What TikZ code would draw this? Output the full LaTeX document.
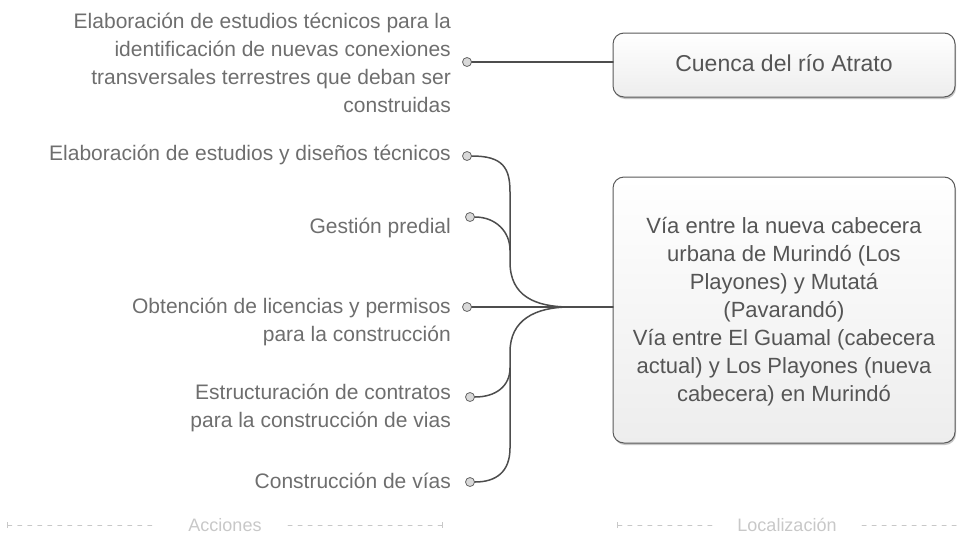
\documentclass[tikz,border=0pt]{standalone}
\usepackage{fontspec}
\setmainfont{Liberation Sans}
\usetikzlibrary{arrows.meta,positioning}
\definecolor{txtgray}{HTML}{6E6E6E}
\definecolor{boxtxt}{HTML}{555555}
\definecolor{linkgray}{HTML}{4D4D4D}
\definecolor{footgray}{HTML}{C8C8C8}
\tikzset{
  act/.style={anchor=east,align=right,text=txtgray,inner sep=0pt,
    font=\fontsize{21}{28}\selectfont},
  dot/.style={circle,draw=gray!80!black,fill=gray!30,line width=0.8pt,
    minimum size=9pt,inner sep=0pt},
  link/.style={draw=linkgray,line width=1.5pt},
  place/.style={draw=gray!70!black,line width=1pt,rounded corners=11pt,
    top color=white,bottom color=gray!14,text=boxtxt,align=center},
  shade/.style={fill=gray!45,rounded corners=11pt},
  guide/.style={footgray,line width=1pt,dash pattern=on 4pt off 6pt},
  foot/.style={text=footgray,font=\fontsize{18}{20}\selectfont,inner sep=0pt}
}
\begin{document}
\begin{tikzpicture}[x=1pt,y=-1pt,line cap=round,line join=round]
  \useasboundingbox (0,0) rectangle (957,536);
  % localizaciones
  \path[shade] (614,35) rectangle (956,99);
  \path[place] (613,33) rectangle (955,97);
  \node[text=boxtxt,font=\fontsize{23}{28}\selectfont] (atrato) at (784,63) {Cuenca del río Atrato};
  \path[shade] (614,179) rectangle (956,445);
  \path[place] (613,177) rectangle (955,443);
  \node[text=boxtxt,align=center,font=\fontsize{22}{28}\selectfont] (vias) at (784,312)
    {Vía entre la nueva cabecera\\urbana de Murindó (Los\\Playones) y Mutatá\\(Pavarandó)\\Vía entre El Guamal (cabecera\\actual) y Los Playones (nueva\\cabecera) en Murindó};
  \coordinate (boxA) at (613,62);
  \coordinate (boxB) at (613,307);
  % acciones
  \node[act] (a0) at (451,63) {Elaboración de estudios técnicos para la\\identificación de nuevas conexiones\\transversales terrestres que deban ser\\construidas};
  \node[act] (a1) at (451,155) {Elaboración de estudios y diseños técnicos};
  \node[act] (a2) at (451,228) {Gestión predial};
  \node[act] (a3) at (451,322) {Obtención de licencias y permisos\\para la construcción};
  \node[act] (a4) at (451,408) {Estructuración de contratos\\para la construcción de vias};
  \node[act] (a5) at (451,481) {Construcción de vías};
  % conectores
  \coordinate (J) at (570,307);
  \coordinate (t1) at (510,192);
  \coordinate (t2) at (510,262);
  \coordinate (t3) at (510,250);
  \coordinate (t4) at (510,352);
  \coordinate (t5) at (510,448);
  \coordinate (t6) at (510,368);
  \node[dot] (d0) at (467,62) {};
  \node[dot] (d1) at (467,156) {};
  \node[dot] (d2) at (470,217) {};
  \node[dot] (d3) at (467,307) {};
  \node[dot] (d4) at (470,397) {};
  \node[dot] (d5) at (470,482) {};
  \draw[link] (d0.east) -- (boxA);
  \draw[link] (d1.east) .. controls (503,156) and (510,168) .. (t1) -- (t2)
    .. controls (510,296) and (535,307) .. (J);
  \draw[link] (d2.east) .. controls (496,217) and (510,232) .. (t3);
  \draw[link] (d3.east) -- (boxB);
  \draw[link] (J) .. controls (535,307) and (510,320) .. (t4) -- (t5)
    .. controls (510,472) and (496,482) .. (d5.east);
  \draw[link] (d4.east) .. controls (496,397) and (510,386) .. (t6);
  % pie
  \node[foot] (acc) at (225,525) {Acciones};
  \node[foot] (loc) at (787,525) {Localización};
  \coordinate (g0) at (7,525);
  \coordinate (g1) at (157,525);
  \coordinate (g2) at (288,525);
  \coordinate (g3) at (443,525);
  \coordinate (g4) at (617,525);
  \coordinate (g5) at (713,525);
  \coordinate (g6) at (862,525);
  \coordinate (g7) at (957,525);
  \draw[guide,{Bar[width=6pt,line width=1pt]}-] (g0) -- (g1);
  \draw[guide,-{Bar[width=6pt,line width=1pt]}] (g2) -- (g3);
  \draw[guide,{Bar[width=6pt,line width=1pt]}-] (g4) -- (g5);
  \draw[guide] (g6) -- (g7);
\end{tikzpicture}
\end{document}
